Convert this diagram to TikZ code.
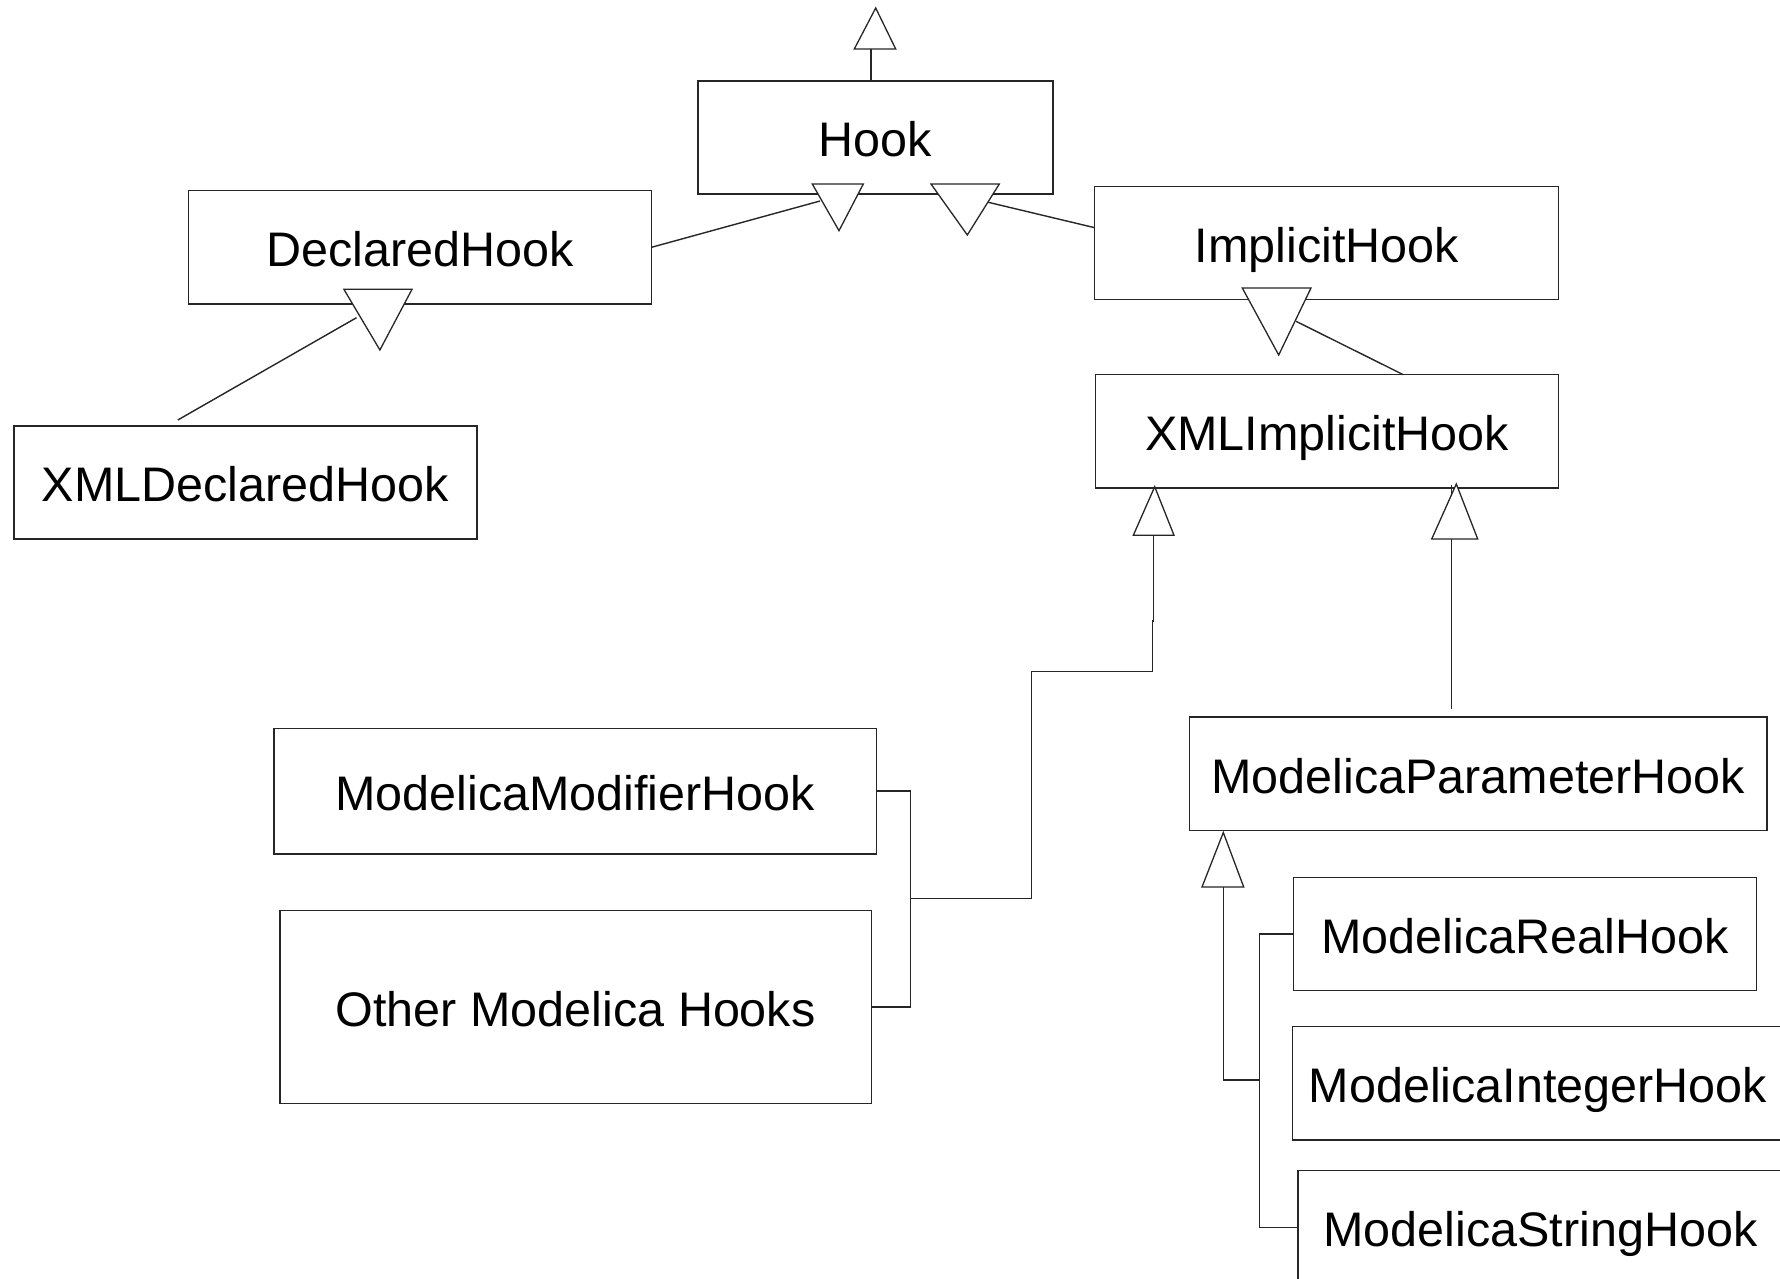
\documentclass[tikz,border=0pt]{standalone}
\usepackage{fontspec}
\setmainfont{Liberation Sans}
\begin{document}
\begin{tikzpicture}[x=1pt,y=-1pt,
  umlbox/.style={draw=black!85, line width=1.4pt, fill=white, inner sep=0pt, outer sep=0pt,
    font=\fontsize{48.5}{58}\selectfont, text height=38.7pt, text depth=0pt},
  wire/.style={draw=black!85, line width=1.4pt},
  gentri/.style={draw=black!85, line width=1.3pt, fill=white, line join=miter}]
\useasboundingbox (0,0) rectangle (1780,1279);
\clip (0,0) rectangle (1780,1279);

% class boxes
\node[umlbox, minimum width=355pt,   minimum height=113pt]   (hook)     at (875.5,137.5)  {Hook};
\node[umlbox, minimum width=462.7pt, minimum height=113.3pt] (decl)     at (420,247.35)   {DeclaredHook};
\node[umlbox, minimum width=464pt,   minimum height=112.6pt] (impl)     at (1326.7,243)   {ImplicitHook};
\node[umlbox, minimum width=463pt,   minimum height=113pt]   (xmldecl)  at (245.5,482.5)  {XMLDeclaredHook};
\node[umlbox, minimum width=463.4pt, minimum height=113.3pt] (xmlimpl)  at (1327,431.35)  {XMLImplicitHook};
\node[umlbox, minimum width=602.7pt, minimum height=125.7pt] (modifier) at (575.25,791.15) {ModelicaModifierHook};
\node[umlbox, minimum width=591.7pt, minimum height=192.6pt] (other)    at (575.65,1007)  {Other Modelica Hooks};
\node[umlbox, minimum width=577.6pt, minimum height=113.4pt] (param)    at (1478.2,773.7) {ModelicaParameterHook};
\node[umlbox, minimum width=463.4pt, minimum height=113pt]   (real)     at (1525,933.8)   {ModelicaRealHook};
\node[umlbox, minimum width=490.6pt, minimum height=113.5pt] (integer)  at (1538,1083.25) {ModelicaIntegerHook};
\node[umlbox, minimum width=485pt,   minimum height=113.5pt] (string)   at (1540.5,1227.25) {ModelicaStringHook};

% corners of the generalization triangles
\coordinate (t0a) at (854.3,49);   \coordinate (t0p) at (875.7,8);    \coordinate (t0b) at (895.7,49);
\coordinate (t1a) at (812.3,184);  \coordinate (t1b) at (863.3,184);  \coordinate (t1p) at (839,230.7);
\coordinate (t2a) at (931,184);    \coordinate (t2b) at (999.3,184);  \coordinate (t2p) at (967.3,235);
\coordinate (t3a) at (343.9,289.3); \coordinate (t3b) at (412,289.3); \coordinate (t3p) at (379.9,350);
\coordinate (t4a) at (1242.3,288); \coordinate (t4b) at (1311,288);   \coordinate (t4p) at (1278.7,355);
\coordinate (t5a) at (1133.3,535.3); \coordinate (t5p) at (1154.7,486.7); \coordinate (t5b) at (1174,535.3);
\coordinate (t6a) at (1431.7,539); \coordinate (t6p) at (1456.3,484); \coordinate (t6b) at (1477.7,539);
\coordinate (t7a) at (1202,887);   \coordinate (t7p) at (1223.3,832.5); \coordinate (t7b) at (1243.7,887);

% connector end points
\coordinate (up)   at (871,49);
\coordinate (j1)   at (820,201);
\coordinate (j2)   at (988.3,202.3);
\coordinate (j3)   at (356.5,317.7);
\coordinate (j3s)  at (177.8,420);
\coordinate (j4)   at (1296,321.3);
\coordinate (j5)   at (1153.7,535.3);
\coordinate (j6)   at (1451.7,484.7);
\coordinate (j6e)  at (1451.7,709);
\coordinate (j7)   at (1223.3,887);
\coordinate (bus)  at (1259.7,1080);

% connectors
\draw[wire] (hook.north -| up) -- (up);
\draw[wire] (decl.east) -- (j1);
\draw[wire] (j2) -- (impl.west |- 0,227.7);
\draw[wire] (j3s) -- (j3);
\draw[wire] (j4) -- (xmlimpl.north -| 1403.3,0);
\draw[wire] (j5) -- (1153.7,621) -- (1152.3,621) -- (1152.3,671.7) -- (1031.3,671.7)
            -- (1031.3,898.3) -- (910.2,898.3);
\draw[wire] (modifier.east) -- (910.2,791.15) |- (other.east);
\draw[wire] (j6) -- (j6e);
\draw[wire] (j7) |- (bus);
\draw[wire] (real.west) -- (1259.7,933.8) |- (string.west);

% generalization triangles
\draw[gentri] (t0a) -- (t0p) -- (t0b) -- cycle;
\draw[gentri] (t1a) -- (t1b) -- (t1p) -- cycle;
\draw[gentri] (t2a) -- (t2b) -- (t2p) -- cycle;
\draw[gentri] (t3a) -- (t3b) -- (t3p) -- cycle;
\draw[gentri] (t4a) -- (t4b) -- (t4p) -- cycle;
\draw[gentri] (t5a) -- (t5p) -- (t5b) -- cycle;
\draw[gentri] (t6a) -- (t6p) -- (t6b) -- cycle;
\draw[gentri] (t7a) -- (t7p) -- (t7b) -- cycle;
\end{tikzpicture}
\end{document}
